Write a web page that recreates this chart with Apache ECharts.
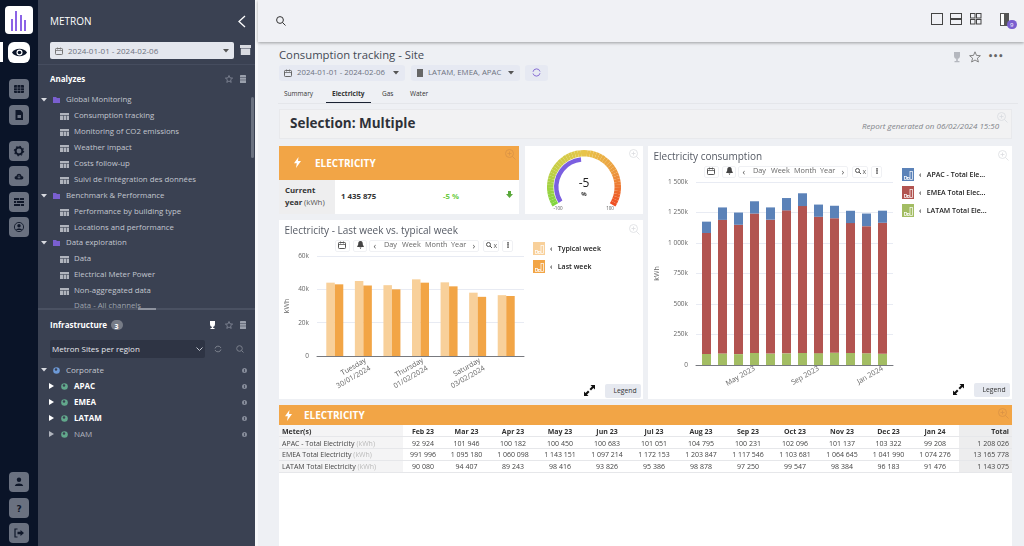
<!DOCTYPE html>
<html>
<head>
<meta charset="utf-8">
<title>Consumption tracking - Site</title>
<script src="https://cdn.jsdelivr.net/npm/echarts@6/dist/echarts.min.js"></script>
<style>
html, body { margin: 0; padding: 0; width: 1024px; height: 546px; overflow: hidden; background: #eef0f4; font-family: "Open Sans", sans-serif; }
#page { position: absolute; left: 0; top: 0; width: 1024px; height: 546px; overflow: hidden; }
.b { position: absolute; }
.t { position: absolute; white-space: nowrap; line-height: 1; transform: translateY(-50%); }
svg.i { position: absolute; overflow: visible; }
.chart { position: absolute; }
</style>
</head>
<body>
<div id="page"></div>
<script>
var months = ['Feb 23','Mar 23','Apr 23','May 23','Jun 23','Jul 23','Aug 23','Sep 23','Oct 23','Nov 23','Dec 23','Jan 24'];
var monthLabels = ['Feb 2023','Mar 2023','Apr 2023','May 2023','Jun 2023','Jul 2023','Aug 2023','Sep 2023','Oct 2023','Nov 2023','Dec 2023','Jan 2024'];
var apac = [92924,101946,100182,100450,100683,101051,104795,100231,102096,101137,103322,99208];
var emea = [991996,1095180,1060098,1143151,1097214,1172153,1203847,1117546,1103681,1064645,1041990,1074276];
var latam = [90080,94407,89243,98416,93826,95386,98878,97250,99547,98384,96183,91476];
var totals = [1208026,13165778,1143075];
var days = ['Monday\n29/01/2024','Tuesday\n30/01/2024','Wednesday\n31/01/2024','Thursday\n01/02/2024','Friday\n02/02/2024','Saturday\n03/02/2024','Sunday\n04/02/2024'];
var typicalWeek = [44000,45000,42500,46000,44200,38000,36500];
var lastWeek = [43000,42300,40000,44000,41800,35500,36000];
var gaugeValue = -5;
var gaugeMin = -100;
var gaugeMax = 100;
// legend names are cut short in the original
var legendShort = { 'APAC - Total Electricity': 'APAC - Total Ele...', 'EMEA Total Electricity': 'EMEA Total Elec...', 'LATAM Total Electricity': 'LATAM Total Ele...' };

var page = document.getElementById('page');

function box(x, y, w, h, css) {
    var d = document.createElement('div');
    d.className = 'b';
    d.style.cssText = 'left:' + x + 'px;top:' + y + 'px;width:' + w + 'px;height:' + h + 'px;' + (css || '');
    page.appendChild(d);
    return d;
}
// y is the vertical middle of the text
function txt(x, y, s, css) {
    var d = document.createElement('div');
    d.className = 't';
    d.style.cssText = 'left:' + x + 'px;top:' + y + 'px;' + (css || '');
    d.textContent = s;
    page.appendChild(d);
    return d;
}
function icon(x, y, w, h, inner) {
    var wrap = document.createElement('div');
    wrap.innerHTML = '<svg class="i" style="left:' + x + 'px;top:' + y + 'px" width="' + w + '" height="' + h + '" viewBox="0 0 ' + w + ' ' + h + '">' + inner + '</svg>';
    page.appendChild(wrap.firstChild);
}
function star(x, y, col) {
    icon(x, y, 8, 8, '<path d="M4 .5l1 2.4 2.6.2-2 1.7.6 2.6L4 6 1.800 7.400l.6-2.600-2-1.700 2.600-.2z" fill="none" stroke="' + col + '" stroke-width=".8"/>');
}
function docIcon(x, y, col) {
    icon(x, y, 6, 8, '<rect width="6" height="8" rx=".6" fill="' + col + '"/><path d="M0 2.500h6M0 5h6" stroke="#3a4152" stroke-width=".5"/>');
}
function calIcon(x, y, col) {
    icon(x, y, 8, 8, '<rect x=".5" y="1.500" width="7" height="6" rx=".8" fill="none" stroke="' + col + '"/><path d="M.5 3.500h7M2.500 .5v2M5.500 .5v2" stroke="' + col + '" stroke-width=".8"/>');
}
function caret(x, y, col) {
    icon(x, y, 6, 4, '<path d="M0 0h6L3 3.500z" fill="' + col + '"/>');
}
function zoomIcon(x, y, col) {
    icon(x, y, 11, 11, '<circle cx="4.500" cy="4.500" r="4" fill="none" stroke="' + col + '" stroke-width=".8"/><path d="M7.500 7.500l3 3M4.500 2.500v4M2.500 4.500h4" stroke="' + col + '" stroke-width=".8"/>');
}
function bolt(x, y) {
    icon(x, y, 7, 11, '<path d="M4.500 0L0 6.200h2.800L2 11l5-7H4z" fill="#fff"/>');
}

// ---- left rail
box(0, 0, 38, 546, 'background:#0a1428');
box(5, 6, 28, 28, 'background:#fff;border-radius:4px');
icon(10, 10, 18, 22, '<g fill="#8b63e6"><rect x="1" y="9" width="2" height="12"/><rect x="5" y="1" width="2" height="20"/><rect x="10" y="5" width="2" height="16"/><rect x="14" y="10" width="2" height="11"/></g>');
box(0, 42, 2.500, 20, 'background:#fff');
box(8, 42, 22, 21, 'background:#fff;border-radius:6px');
icon(12, 47, 15, 11, '<path d="M0 5.500C3 .5 12 .5 15 5.500 12 10.500 3 10.500 0 5.500z" fill="#0a1428"/><circle cx="7.500" cy="5.500" r="3" fill="#fff"/><circle cx="7.500" cy="5.500" r="1.800" fill="#0a1428"/>');
var railGlyphs = [
    '<rect x="0" y="1" width="10" height="8" rx="1" fill="#10182a"/><path d="M0 4h10M0 6.500h10M3.300 1v8M6.600 1v8" stroke="#6a7180" stroke-width=".6"/>',
    '<path d="M1.500 0h5L9 2.500V10H1.500z" fill="#10182a"/><rect x="3.500" y="5" width="3.500" height="3" fill="#6a7180"/>',
    '<circle cx="5" cy="5" r="3.400" fill="none" stroke="#10182a" stroke-width="2"/><circle cx="5" cy="5" r="4.600" fill="none" stroke="#10182a" stroke-width="1.200" stroke-dasharray="1.500 2.100"/>',
    '<path d="M2.500 8.500C0 8.500 0 5 2.500 5 3 2 7 2 7.500 5 10 5 10 8.500 7.500 8.500z" fill="#10182a"/><path d="M5 4v3M3.500 5.800L5 7.300l1.500-1.500" stroke="#6a7180" fill="none" stroke-width=".8"/>',
    '<path d="M0 2h10M0 5h10M0 8h10" stroke="#10182a" stroke-width="1.800"/><path d="M5.500 1v2M2.500 4v2M6.500 7v2" stroke="#6a7180" stroke-width=".8"/>',
    '<circle cx="5" cy="5" r="4.600" fill="none" stroke="#10182a" stroke-width=".9"/><circle cx="5" cy="3.800" r="1.700" fill="#10182a"/><path d="M2 8c.5-2 5.500-2 6 0z" fill="#10182a"/>',
    '<circle cx="5" cy="2.800" r="2.200" fill="#10182a"/><path d="M.8 9c.4-3.300 8-3.300 8.400 0z" fill="#10182a"/>',
    '<text x="5" y="9" text-anchor="middle" font-family="DejaVu Sans" font-weight="700" font-size="9" fill="#10182a">?</text>',
    '<path d="M3.500 1H1v8h2.500" fill="none" stroke="#10182a" stroke-width="1.200"/><path d="M3.500 3.800h3V2L10 5 6.500 8V6.200h-3z" fill="#10182a"/>'
];
[79, 105, 141, 166, 192, 217, 472, 498, 523].forEach(function (y, i) {
    box(9, y, 20, 20, 'background:#6a7180;border-radius:4px');
    icon(14, y + 5, 10, 10, railGlyphs[i]);
});

// ---- tree panel
box(38, 0, 217, 546, 'background:#3a4152');
box(255, 0, 3, 546, 'background:#f6f7f9');
txt(50, 21, 'METRON', 'color:#fff;font-size:10px');
icon(238, 15, 8, 13, '<path d="M7 1L1 6.500 7 12" fill="none" stroke="#fff" stroke-width="1.300"/>');
box(50, 42, 184, 17, 'background:#e4e7ee;border-radius:2px');
calIcon(55, 47, '#777');
txt(68, 50.500, '2024-01-01 - 2024-02-06', 'color:#6d7280;font-size:8px');
caret(223, 49, '#555');
icon(240, 45, 11, 10, '<rect y="0" width="11" height="3" fill="#d8dae0"/><rect x=".8" y="3.500" width="9.400" height="6.500" fill="#d8dae0"/>');
box(38, 64, 217, 1, 'background:#454c5e');
txt(50, 79, 'Analyzes', 'color:#fff;font-size:8px;font-weight:700');
star(225, 75, '#868c9a');
docIcon(240, 75, '#9aa0ac');

var analyzeTree = [
    [100, 0, 'Global Monitoring'], [116, 1, 'Consumption tracking'], [132, 1, 'Monitoring of CO2 emissions'],
    [148, 1, 'Weather impact'], [164, 1, 'Costs follow-up'], [180, 1, "Suivi de l'intégration des données"],
    [196, 0, 'Benchmark & Performance'], [212, 1, 'Performance by building type'], [228, 1, 'Locations and performance'],
    [243, 0, 'Data exploration'], [259, 1, 'Data'], [275, 1, 'Electrical Meter Power'], [291, 1, 'Non-aggregated data']
];
analyzeTree.forEach(function (row) {
    if (row[1] === 0) {
        caret(41, row[0] - 2, '#d8dae0');
        icon(53, row[0] - 3.500, 7, 6, '<path d="M0 0h3l1 1h3v5H0z" fill="#7a5fd0"/>');
        txt(66, row[0], row[2], 'color:#c3c7d0;font-size:7.800px');
    } else {
        icon(60, row[0] - 3.500, 9, 7, '<rect width="9" height="7" fill="#b0b4bd"/><path d="M0 2.500h9M3.500 2.500v4.500M6.500 2.500v4.500" stroke="#3a4152" stroke-width=".6"/>');
        txt(74, row[0], row[2], 'color:#c3c7d0;font-size:7.800px');
    }
});
box(38, 303, 217, 7, 'background:#3a4152');
txt(74, 306, 'Data - All channels', 'color:#9ea3ae;font-size:7.800px');
box(38, 308, 217, 240, 'background:#3a4152');
box(38, 308, 217, 2, 'background:#4a5162');
box(138, 308, 18, 2, 'background:#8d929e');
box(251, 97, 3, 61, 'background:#6b7280;border-radius:2px');

txt(50, 325, 'Infrastructure', 'color:#fff;font-size:8px;font-weight:700');
box(111, 320, 12, 10, 'background:#777c87;border-radius:5px');
txt(114.500, 325.500, '3', 'color:#fff;font-size:7px;font-weight:700');
icon(209, 321, 7, 8, '<path d="M1 0h5v3c0 2-1 3-2.500 3S1 5 1 3zM2.800 6h1.400v1H5.500v1h-4V7h1.300z" fill="#fff"/>');
star(225, 321, '#868c9a');
docIcon(240, 321, '#9aa0ac');
box(50, 340, 155, 18, 'background:#2e3444;border-radius:2px');
txt(52, 349, 'Metron Sites per region', 'color:#e6e8ed;font-size:8px');
icon(196, 347, 7, 4, '<path d="M.5 .5L3.500 3.500 6.500 .5" fill="none" stroke="#c3c7d0"/>');
icon(214, 345, 8, 8, '<path d="M1 3.500A3.200 3.200 0 0 1 7 3M7 4.500A3.200 3.200 0 0 1 1 5" fill="none" stroke="#7b808c"/>');
icon(236, 345, 8, 8, '<circle cx="3.500" cy="3.500" r="2.800" fill="none" stroke="#7b808c"/><path d="M5.500 5.500L7.500 7.500" stroke="#7b808c"/>');

var infraTree = [[370, 0, 'Corporate', '#c3c7d0', 400], [386, 1, 'APAC', '#fff', 700], [402, 1, 'EMEA', '#fff', 700], [418, 1, 'LATAM', '#fff', 700], [434, 1, 'NAM', '#b0b4bd', 400]];
infraTree.forEach(function (row) {
    var base = row[1] === 0 ? 41 : 49;
    if (row[1] === 0) {
        caret(41, row[0] - 2, '#d8dae0');
    } else {
        icon(49, row[0] - 3, 5, 6, '<path d="M0 0l5 3-5 3z" fill="' + (row[4] === 700 ? '#fff' : '#b0b4bd') + '"/>');
    }
    icon(base + 12, row[0] - 3.500, 7, 7, '<circle cx="3.500" cy="3.500" r="3.300" fill="' + (row[1] === 0 ? '#6d9ad8' : '#62a88c') + '"/><circle cx="3" cy="2.500" r="1.200" fill="#3a4152"/>');
    txt(base + 25, row[0], row[2], 'color:' + row[3] + ';font-size:8px;font-weight:' + row[4]);
    icon(242, row[0] - 2.500, 5, 5, '<circle cx="2.500" cy="2.500" r="2.500" fill="#868c9a"/><rect x="2.100" y="1" width=".8" height="3" fill="#3a4152"/>');
});

// ---- top bar
box(258, 0, 766, 42, 'background:#f0f1f5;box-shadow:0 1px 3px rgba(0,0,0,.35)');
icon(276, 16, 10, 10, '<circle cx="4" cy="4" r="3.400" fill="none" stroke="#333" stroke-width="1"/><path d="M6.500 6.500L9.500 9.500" stroke="#333" stroke-width="1"/>');
icon(931, 13, 12, 12, '<rect x=".5" y=".5" width="11" height="11" fill="none" stroke="#444"/>');
icon(950, 13, 12, 12, '<rect x=".5" y=".5" width="11" height="5" fill="none" stroke="#444"/><rect x=".5" y="6.500" width="11" height="5" fill="none" stroke="#444"/>');
icon(970, 13, 12, 12, '<rect x=".5" y=".5" width="4.500" height="4.500" fill="none" stroke="#444"/><rect x="6.500" y=".5" width="4.500" height="4.500" fill="none" stroke="#444"/><rect x=".5" y="6.500" width="4.500" height="4.500" fill="none" stroke="#444"/><rect x="6.500" y="6.500" width="4.500" height="4.500" fill="none" stroke="#444"/>');
icon(1000, 13, 12, 14, '<rect x=".5" y=".5" width="8" height="12" fill="#fff" stroke="#555"/><rect x="4" y="0" width="5" height="13" fill="#555"/>');
box(1007, 20, 10, 9, 'background:#7a5fd0;border-radius:5px');
txt(1010, 24.500, '9', 'color:#fff;font-size:6px');

// ---- report heading
txt(279, 55, 'Consumption tracking - Site', 'color:#444a55;font-size:11.300px');
box(279, 65, 126, 16, 'background:#e6e9f2;border-radius:3px');
calIcon(284, 69, '#666');
txt(297, 73, '2024-01-01 - 2024-02-06', 'color:#6d7280;font-size:7.800px');
caret(393, 71, '#555');
box(411, 65, 109, 16, 'background:#e6e9f2;border-radius:3px');
icon(417, 69, 6, 8, '<rect width="6" height="8" fill="#666"/>');
txt(428, 73, 'LATAM, EMEA, APAC', 'color:#6d7280;font-size:7.800px');
caret(508, 71, '#555');
box(525, 65, 23, 16, 'background:#e6e9f2;border-radius:3px');
icon(532, 68, 9, 9, '<path d="M1 3.800A3.600 3.600 0 0 1 8 3.500M8 5.200A3.600 3.600 0 0 1 1 5.500" fill="none" stroke="#7a5fd0" stroke-width=".9"/>');
[['Summary', 284, 400], ['Electricity', 332, 700], ['Gas', 382, 400], ['Water', 410, 400]].forEach(function (tab) {
    txt(tab[1], 94, tab[0], 'color:#333;font-size:6.500px;font-weight:' + tab[2]);
});
box(326, 102, 45, 1, 'background:#1a2233');
box(278, 103, 740, 1, 'background:#e4e6ea');
icon(952, 52, 10, 11, '<path d="M2 0h6v4c0 2-1.500 3-3 3S2 6 2 4zM4.200 7h1.600v2H7.500v1.200h-5V9h1.700z" fill="#b4b7be"/>');
icon(969, 51, 12, 12, '<path d="M6 .8l1.500 3.600 3.900.3-3 2.500 1 3.800L6 9 2.600 11l1-3.800-3-2.500 3.900-.3z" fill="none" stroke="#777" stroke-width=".9"/>');
txt(988, 56, '•••', 'color:#666;font:bold 8px "DejaVu Sans"');

box(279, 109, 733, 30, 'background:#f2f2f3;border:1px solid #e8e9ec;box-sizing:border-box');
txt(290, 124, 'Selection: Multiple', 'color:#2e3138;font-size:13.500px;font-weight:700');
txt(862, 126, 'Report generated on 06/02/2024 15:50', 'color:#808288;font-size:8px;font-style:italic');
zoomIcon(997, 112, '#d8dadf');

// ---- electricity KPI tile
box(279, 146, 240, 34, 'background:#f2a546');
bolt(294, 157);
txt(315, 163, 'ELECTRICITY', 'color:#fff;font-size:10px;font-weight:700');
zoomIcon(505, 149, '#d99245');
box(279, 180, 240, 34, 'background:#fff');
box(279, 180, 56, 34, 'background:#eeeeef');
txt(285, 191, 'Current', 'color:#333;font-size:7.800px;font-weight:700');
txt(285, 203, 'year', 'color:#333;font-size:7.800px;font-weight:700');
txt(304, 203, '(kWh)', 'color:#555;font-size:7.800px');
txt(341, 197, '1 435 875', 'color:#333;font-size:7.800px;font-weight:700');
txt(443, 197, '-5 %', 'color:#6dcc45;font-size:7.800px;font-weight:700');
icon(506, 191, 7, 7, '<path d="M2 0h3v3h2L3.500 7 0 3h2z" fill="#5aa83c"/>');

// ---- white tiles
box(525, 146, 118, 68, 'background:#fff');
box(279, 220, 364, 179, 'background:#fff');
box(648, 146, 364, 253, 'background:#fff');

// ---- charts
function addChart(x, y, w, h) {
    var d = document.createElement('div');
    d.className = 'chart';
    d.style.cssText = 'left:' + x + 'px;top:' + y + 'px;width:' + w + 'px;height:' + h + 'px';
    page.appendChild(d);
    return echarts.init(d, null, { renderer: 'canvas' });
}

function fmtK(v) {
    if (v === 0) return '0';
    var k = v / 1000;
    return k >= 1000 ? Math.floor(k / 1000) + ' ' + String(k % 1000 + 1000).slice(1) + 'k' : k + 'k';
}

// two grids: the one behind carries the wider gridlines and baseline, the front one the bars
function barOption(o) {
    var cats = o.categories;
    return {
        animation: false,
        legend: {
            orient: 'vertical', left: 254, top: 22, padding: 0, icon: 'rect', itemWidth: 12, itemHeight: 13, itemGap: 5,
            data: o.legend,
            formatter: function (n) { return '‹   ' + (legendShort[n] || n); },
            textStyle: { color: '#222', fontSize: 7, fontWeight: 600, fontFamily: 'Open Sans' }
        },
        grid: [
            { left: o.back[0], right: o.back[1], top: o.top, height: o.height, outerBoundsMode: 'none' },
            { left: o.front[0], right: o.front[1], top: o.top, height: o.height, outerBoundsMode: 'none' }
        ],
        xAxis: [
            { type: 'category', gridIndex: 0, data: cats, axisLabel: { show: false }, axisTick: { show: false }, axisLine: { lineStyle: { color: '#77797f', width: 1 } } },
            {
                type: 'category', gridIndex: 1, data: cats,
                axisLine: { show: false },
                axisTick: { alignWithLabel: true, length: 3, interval: function (i) { return i % o.every === o.offset; }, lineStyle: { color: '#ccd0da' } },
                axisLabel: { interval: function (i) { return i % o.every === o.offset; }, rotate: 30, margin: o.labelMargin, verticalAlign: o.labelVAlign, color: '#666', fontSize: 7.200, lineHeight: 9, fontFamily: 'Open Sans' }
            }
        ],
        yAxis: [
            {
                type: 'value', gridIndex: 0, min: 0, max: o.max, interval: o.step,
                name: 'kWh', nameLocation: 'middle', nameGap: o.nameGap, nameMoveOverlap: false, nameTextStyle: { color: '#666', fontSize: 7, fontFamily: 'Open Sans' },
                axisLine: { show: false }, axisTick: { show: false },
                axisLabel: { formatter: fmtK, color: '#666', fontSize: 6.500, margin: 8, fontFamily: 'Open Sans' },
                splitLine: { lineStyle: { color: '#e8ebf3', width: 1 } }
            },
            { type: 'value', gridIndex: 1, min: 0, max: o.max, interval: o.step, show: false }
        ],
        series: o.series.map(function (s) {
            return {
                name: s.name, type: 'bar', data: s.data, stack: s.stack, xAxisIndex: 1, yAxisIndex: 1,
                barWidth: o.barWidth, barGap: 0, itemStyle: { color: s.color }
            };
        })
    };
}

var weekChart = addChart(279, 220, 364, 179);
weekChart.setOption(barOption({
    categories: days,
    legend: ['Typical week', 'Last week'],
    back: [38, 119], front: [41.500, 122.500], top: 36, height: 100,
    max: 60000, step: 20000, nameGap: 27, every: 2, offset: 1, barWidth: 8.500,
    labelMargin: 0, labelVAlign: 'top',
    series: [
        { name: 'Typical week', data: typicalWeek, color: '#f8d09a' },
        { name: 'Last week', data: lastWeek, color: '#f2a546' }
    ]
}));

var monthChart = addChart(648, 146, 364, 253);
monthChart.setOption(barOption({
    categories: monthLabels,
    legend: ['APAC - Total Electricity', 'EMEA Total Electricity', 'LATAM Total Electricity'],
    back: [48, 119], front: [50.500, 121.500], top: 36, height: 183,
    max: 1500000, step: 250000, nameGap: 36, every: 4, offset: 3, barWidth: 9,
    labelMargin: 3, labelVAlign: 'middle',
    series: [
        { name: 'LATAM Total Electricity', data: latam, color: '#a3bd63', stack: 'meter' },
        { name: 'EMEA Total Electricity', data: emea, color: '#b25450', stack: 'meter' },
        { name: 'APAC - Total Electricity', data: apac, color: '#5b82b8', stack: 'meter' }
    ]
}));

// stepped colour bands along the gauge arc, green on the left round to red on the right
var gaugeBands = [];
for (var g = 1; g <= 48; g++) {
    gaugeBands.push([g / 48, echarts.color.lerp((g - 0.5) / 48, ['#7ed640', '#c3ce44', '#e8c54a', '#ec9c3f', '#ee4c22'])]);
}

var gaugeChart = addChart(525, 146, 118, 68);
gaugeChart.setOption({
    animation: false,
    series: [
        {
            // the range ends are labelled through the data titles, axisLabel cannot sit under the arc
            type: 'gauge', center: [59, 41], radius: 37, startAngle: 212, endAngle: -32, min: gaugeMin, max: gaugeMax,
            axisLine: { lineStyle: { width: 6.500, color: gaugeBands } },
            pointer: { show: false }, axisTick: { show: false }, splitLine: { show: false }, axisLabel: { show: false },
            title: { color: '#555', fontSize: 4.500, fontFamily: 'Open Sans' }, detail: { show: false },
            data: [
                { value: gaugeMin, name: String(gaugeMin), title: { offsetCenter: [-26, 22] } },
                { value: gaugeMax, name: String(gaugeMax), title: { offsetCenter: [26, 22] } }
            ]
        },
        {
            type: 'gauge', center: [59, 41], radius: 30, startAngle: 212, endAngle: -32, min: gaugeMin, max: gaugeMax,
            axisLine: { show: false }, pointer: { show: false }, axisTick: { show: false }, splitLine: { show: false }, axisLabel: { show: false },
            progress: { show: true, width: 4.500, itemStyle: { color: '#7b5fe0' } },
            title: { offsetCenter: [0, 7], color: '#333', fontSize: 6, fontWeight: 700, fontFamily: 'Open Sans' },
            detail: { offsetCenter: [0, -3], valueAnimation: false, color: '#222', fontSize: 12, fontWeight: 400, fontFamily: 'Open Sans', formatter: '{value}' },
            data: [{ value: gaugeValue, name: '%' }]
        }
    ]
});
zoomIcon(629, 149, '#dcdde1');

// ---- chart furniture, offsets relative to each tile
function tileTools(x, y, title) {
    txt(x + 5.500, y + 10, title, 'color:#555a64;font-size:10px');
    zoomIcon(x + 350, y + 4, '#dcdde1');
    var ty = y + 25;
    [[56, 15], [74, 14], [204, 16], [223, 11]].forEach(function (b) {
        box(x + b[0], ty - 5.500, b[1], 12, 'border:1px solid #f0f1f4;box-sizing:border-box;border-radius:2px');
    });
    box(x + 90, ty - 5.500, 110, 12, 'border:1px solid #f0f1f4;box-sizing:border-box;border-radius:2px');
    calIcon(x + 59, ty - 4, '#555');
    icon(x + 78, ty - 4, 7, 8, '<path d="M3.500 0C1.500 0 1.200 1.500 1.200 3.500L0 6h7L5.800 3.500C5.800 1.500 5.500 0 3.500 0zM2.500 6.500h2L3.500 8z" fill="#444"/>');
    txt(x + 94.500, ty, '‹', 'color:#555;font-size:9px');
    txt(x + 105, ty, 'Day', 'color:#666;font-size:7.300px');
    txt(x + 123, ty, 'Week', 'color:#666;font-size:7.300px');
    txt(x + 146, ty, 'Month', 'color:#666;font-size:7.300px');
    txt(x + 172, ty, 'Year', 'color:#666;font-size:7.300px');
    txt(x + 193.500, ty, '›', 'color:#555;font-size:9px');
    icon(x + 207, ty - 3, 6, 6, '<circle cx="2.500" cy="2.500" r="2" fill="none" stroke="#555"/><path d="M4 4l2 2" stroke="#555"/>');
    txt(x + 214.500, ty, 'x', 'color:#666;font-size:7px');
    txt(x + 227.500, ty, '⁝', 'color:#555;font:bold 8px "DejaVu Sans"');
    var dy = y === 146 ? 0 : 73;
    icon(x + 305, y + 238 - dy, 11, 11, '<path d="M6.500 0H11v4.500L9.400 3 7 5.500 5.500 4 8 1.600zM0 6.500V11h4.500L3 9.400 5.500 7 4 5.500 1.600 8z" fill="#111"/>');
    box(x + 326, y + 237 - dy, 36, 14, 'background:#e6e9f0;border-radius:2px');
    txt(x + 334.500, y + 244 - dy, 'Legend', 'color:#333;font-size:6.800px');
}
tileTools(279, 220, 'Electricity - Last week vs. typical week');
tileTools(648, 146, 'Electricity consumption');

// tiny bars drawn on the legend swatches
function swatchBars(x, y) {
    icon(x + 1.500, y + 2.500, 9, 9, '<g fill="none" stroke="#fff" stroke-width=".7"><rect x=".4" y="5.500" width="2" height="3"/><rect x="3.400" y="6.500" width="1.800" height="2"/><rect x="6" y=".5" width="2.500" height="8"/></g>');
}
[[279, 242], [279, 260]].forEach(function (p) { swatchBars(p[0] + 254, p[1]); });
[[648, 168], [648, 186], [648, 204]].forEach(function (p) { swatchBars(p[0] + 254, p[1]); });

// ---- table
box(279, 405, 733, 20, 'background:#f2a546');
bolt(285, 410);
txt(304, 415, 'ELECTRICITY', 'color:#fff;font-size:10px;font-weight:700');
zoomIcon(998, 408, '#d99245');
box(279, 425, 733, 121, 'background:#fff');
box(279, 425, 124, 48, 'background:#f4f4f5');
box(959, 425, 53, 48, 'background:#ededee');

function spaced(n) {
    return String(n).replace(/\B(?=(\d{3})+$)/g, ' ');
}
var colCenters = [423, 466.500, 513, 560, 607, 654, 701, 748, 795, 842, 888.500, 935];
var rowY = [430.500, 442.500, 454, 466];
var rows = [
    { name: 'APAC - Total Electricity', data: apac, total: totals[0] },
    { name: 'EMEA Total Electricity', data: emea, total: totals[1] },
    { name: 'LATAM Total Electricity', data: latam, total: totals[2] }
];
rowY.forEach(function (y) { box(279, y + 5.500, 733, 1, 'background:#e6e7ea'); });
function centered(x, y, s, css) {
    var d = txt(x, y, s, css);
    d.style.transform = 'translate(-50%,-50%)';
}
function rightAligned(x, y, s, css) {
    var d = txt(x, y, s, css);
    d.style.transform = 'translate(-100%,-50%)';
}
var head = 'color:#333;font-size:7px;font-weight:700';
var cell = 'color:#444;font-size:7px';
txt(282, rowY[0], 'Meter(s)', head);
months.forEach(function (m, i) { centered(colCenters[i], rowY[0], m, head); });
rightAligned(1009, rowY[0], 'Total', head);
rows.forEach(function (r, k) {
    var y = rowY[k + 1];
    var label = txt(282, y, r.name, cell);
    var unit = document.createElement('span');
    unit.style.color = '#bbb';
    unit.textContent = ' (kWh)';
    label.appendChild(unit);
    r.data.forEach(function (v, i) { centered(colCenters[i], y, spaced(v), cell); });
    rightAligned(1009, y, spaced(r.total), cell);
});
</script>
</body>
</html>
